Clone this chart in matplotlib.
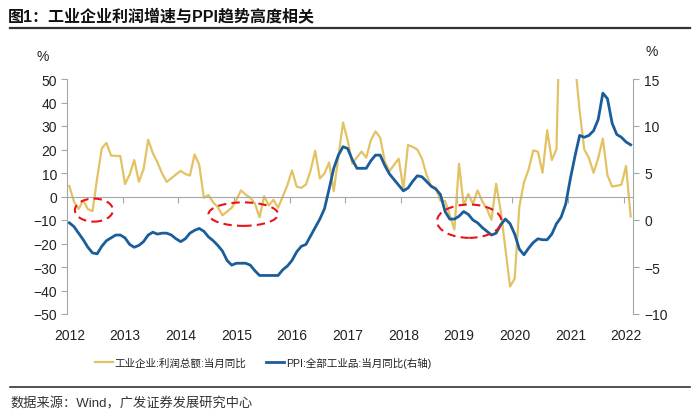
import numpy as np
import matplotlib
matplotlib.use("Agg")
import matplotlib.pyplot as plt
from matplotlib.patches import Ellipse

plt.rcParams['font.family'] = ['Liberation Sans', 'Noto Sans CJK SC', 'DejaVu Sans']

# monthly data, Mar 2012 .. Apr 2022 (Jan values of profit are merged into Feb)
nan = np.nan
profit_yoy = [
    4.5, -2.2, -5.3, -1.7, -5.4, -6.2, 7.8, 20.5, 22.8, 17.4,                  # 2012
    nan, 17.2, 5.3, 9.3, 15.5, 6.3, 11.6, 24.2, 18.4, 14.5, 9.8, 6.2,          # 2013
    nan, 9.4, 10.9, 9.6, 8.9, 17.9, 13.5, -0.5, 0.6, -2.5, -4.5, -8.0,         # 2014
    nan, -4.8, -1.5, 2.6, 0.8, -0.5, -3.0, -8.8, 0.1, -3.8, -1.4, -4.8,        # 2015
    nan, 4.8, 11.1, 4.2, 3.7, 5.1, 11.0, 19.5, 7.7, 9.8, 14.5, 2.3,            # 2016
    nan, 31.5, 23.8, 14.0, 16.7, 19.1, 16.5, 24.0, 27.7, 25.1, 14.9, 10.8,     # 2017
    nan, 16.1, 3.1, 21.9, 21.1, 20.0, 16.2, 9.2, 4.1, 3.6, -1.8, -1.9,         # 2018
    nan, -14.0, 13.9, -3.7, 1.1, -3.1, 2.6, -2.0, -5.3, -9.9, 5.4, -6.3,       # 2019
    nan, -38.3, -34.9, -4.3, 6.0, 11.5, 19.6, 19.1, 10.1, 28.2, 15.5, 20.1,    # 2020
    nan, 178.9, 92.3, 57.0, 36.4, 20.0, 16.4, 10.1, 16.3, 24.6, 9.0, 4.2,      # 2021
    nan, 5.0, 13.0, -8.5,                                                      # 2022
]
ppi_yoy = [
    -0.3, -0.7, -1.4, -2.1, -2.9, -3.5, -3.6, -2.8, -2.2, -1.9,
    -1.6, -1.6, -1.9, -2.6, -2.9, -2.7, -2.3, -1.6, -1.3, -1.5, -1.4, -1.4,
    -1.6, -2.0, -2.3, -2.0, -1.4, -1.1, -0.9, -1.2, -1.8, -2.2, -2.7, -3.3,
    -4.3, -4.8, -4.6, -4.6, -4.6, -4.8, -5.4, -5.9, -5.9, -5.9, -5.9, -5.9,
    -5.3, -4.9, -4.3, -3.4, -2.8, -2.6, -1.7, -0.8, 0.1, 1.2, 3.3, 5.5,
    6.9, 7.8, 7.6, 6.4, 5.5, 5.5, 5.5, 6.3, 6.9, 6.9, 5.8, 4.9,
    4.3, 3.7, 3.1, 3.4, 4.1, 4.7, 4.6, 4.1, 3.6, 3.3, 2.7, 0.9,
    0.1, 0.1, 0.4, 0.9, 0.6, 0.0, -0.3, -0.8, -1.2, -1.6, -1.4, -0.5,
    0.1, -0.4, -1.5, -3.1, -3.7, -3.0, -2.4, -2.0, -2.1, -2.1, -1.5, -0.4,
    0.3, 1.7, 4.4, 6.8, 9.0, 8.8, 9.0, 9.5, 10.7, 13.5, 12.9, 10.3,
    9.1, 8.8, 8.3, 8.0,
]
year_labels = [str(y) for y in range(2012, 2023)]
label_name_profit = "工业企业:利润总额:当月同比"
label_name_ppi = "PPI:全部工业品:当月同比(右轴)"

# highlighted periods (centre month index, centre value, width months, height)
circles = [(5.3, -5.8, 8.2, 9.8), (37.5, -7.5, 15.0, 10.0), (86.2, -10.5, 13.9, 14.2)]

profit = np.array(profit_yoy, dtype=float)
ppi = np.array(ppi_yoy, dtype=float)
idx = np.arange(len(profit))
ok = ~np.isnan(profit)

yellow = '#E3C263'
blue = '#1A5D9B'
gray = '#A6A6A6'
txt = '#222222'

fig = plt.figure(figsize=(7, 4.14), dpi=100)
ax = fig.add_axes([67 / 700, 1 - 315 / 414, 566 / 700, 235 / 414])
ax2 = ax.twinx()

l1, = ax.plot(idx[ok], profit[ok], color=yellow, lw=1.6, label=label_name_profit)
l2, = ax2.plot(idx, ppi, color=blue, lw=2.0, label=label_name_ppi)

ax.set_xlim(-0.5, 121.5)
ax.set_ylim(-50, 50)
ax2.set_ylim(-10, 15)
ax.set_yticks(np.arange(-50, 51, 10))
ax2.set_yticks(np.arange(-10, 16, 5))

for s in ['top', 'right']:
    ax.spines[s].set_visible(False)
for s in ['top', 'left', 'bottom']:
    ax2.spines[s].set_visible(False)
ax.spines['left'].set_color(gray)
ax2.spines['right'].set_color(gray)
ax.spines['bottom'].set_position(('data', 0))
ax.spines['bottom'].set_color(gray)

ax.set_xticks(np.arange(11.5, 121, 12))
ax.tick_params(axis='x', length=4, color=gray, labelbottom=False)
ax.tick_params(axis='y', length=4, color=gray, labelsize=10, labelcolor=txt, pad=3)
ax2.tick_params(axis='y', length=4, color=gray, labelsize=10, labelcolor=txt, pad=4)

sec = ax.secondary_xaxis('bottom')
sec.set_xticks(np.arange(0, 121, 12))
sec.set_xticklabels(year_labels)
sec.tick_params(length=0, pad=10, labelsize=10, labelcolor=txt)
sec.spines['bottom'].set_visible(False)

for cx_, cy_, w, h in circles:
    e = Ellipse((cx_, cy_), w, h, transform=ax.transData, fill=False,
                edgecolor='#E8131B', lw=1.5, ls=(0, (4, 2.5)), zorder=10)
    ax2.add_patch(e)

fig.text(43 / 700, 1 - 57 / 414, '%', fontsize=10, color=txt, ha='center', va='center')
fig.text(652 / 700, 1 - 52 / 414, '%', fontsize=10, color=txt, ha='center', va='center')

fig.legend([l1, l2], [label_name_profit, label_name_ppi], loc='center',
           bbox_to_anchor=(263 / 700, 1 - 363 / 414), ncol=2, frameon=False,
           fontsize=7.6, handlelength=1.7, handletextpad=0.15, columnspacing=1.9,
           labelcolor=txt)

fig.text(8 / 700, 1 - 16 / 414, '图1：工业企业利润增速与PPI趋势高度相关',
         fontsize=11.5, fontweight='bold', color='#111111', ha='left', va='center')
fig.add_artist(plt.Line2D([10 / 700, 690 / 700], [1 - 29 / 414, 1 - 29 / 414],
                          color='#333333', lw=1.6))
fig.add_artist(plt.Line2D([10 / 700, 690 / 700], [1 - 388 / 414, 1 - 388 / 414],
                          color='#333333', lw=1.2))
fig.text(10 / 700, 1 - 404 / 414, '数据来源：Wind，广发证券发展研究中心',
         fontsize=9.5, color='#333333', ha='left', va='center')

fig.savefig('out.png', dpi=100)
